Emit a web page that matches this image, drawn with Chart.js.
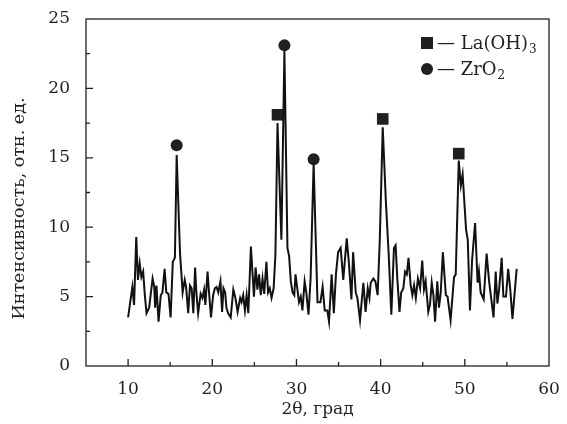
<!DOCTYPE html>
<html>
<head>
<meta charset="utf-8">
<script src="https://cdn.jsdelivr.net/npm/chart.js@4"></script>
<style>
  html, body { margin: 0; padding: 0; background: #fff; }
  #wrap { width: 567px; height: 424px; }
</style>
</head>
<body>
<div id="wrap"><canvas id="grafico" width="567" height="424"></canvas></div>
<script>
// 2θ, град
const twoTheta = [
  10.0, 10.51, 10.71, 10.97, 11.17, 11.38, 11.58, 11.79, 11.99, 12.19, 12.5, 12.91, 13.11, 13.21, 13.37, 13.62,
  13.88, 14.08, 14.34, 14.54, 14.8, 15.05, 15.31, 15.56, 15.77, 16.17, 16.48, 16.73, 16.89, 17.14, 17.35,
  17.55, 17.75, 17.96, 18.11, 18.32, 18.62, 18.83, 19.03, 19.18, 19.44, 19.64, 19.85, 20.1, 20.31, 20.51,
  20.71, 20.97, 21.17, 21.33, 21.53, 21.68, 21.89, 22.19, 22.5, 22.75, 23.01, 23.31, 23.47, 23.67, 23.88,
  24.08, 24.28, 24.59, 24.95, 25.15, 25.36, 25.56, 25.76, 25.97, 26.17, 26.43, 26.63, 26.83, 27.04, 27.29,
  27.5, 27.75, 28.21, 28.57, 28.93, 29.13, 29.33, 29.54, 29.74, 29.89, 30.1, 30.3, 30.51, 30.71, 30.97,
  31.17, 31.43, 31.68, 32.04, 32.5, 32.85, 33.11, 33.36, 33.67, 33.87, 34.18, 34.44, 34.69, 34.95, 35.25,
  35.56, 35.97, 36.22, 36.53, 36.73, 37.04, 37.24, 37.55, 37.95, 38.21, 38.47, 38.67, 38.82, 39.13, 39.38,
  39.64, 39.89, 40.25, 40.61, 40.96, 41.27, 41.58, 41.78, 41.98, 42.24, 42.44, 42.7, 42.9, 43.11, 43.31,
  43.57, 43.77, 43.97, 44.18, 44.43, 44.69, 44.94, 45.15, 45.35, 45.66, 45.86, 46.07, 46.27, 46.47, 46.73,
  46.93, 47.14, 47.39, 47.75, 47.95, 48.31, 48.72, 48.92, 49.28, 49.53, 49.74, 50.15, 50.35, 50.61, 50.86,
  51.22, 51.52, 51.68, 51.88, 52.24, 52.59, 52.9, 53.21, 53.41, 53.67, 53.87, 54.07, 54.38, 54.58, 54.89,
  55.15, 55.4, 55.66, 56.16
];
// Интенсивность, отн. ед.
const intensity = [
  3.5, 5.7, 4.4, 9.3, 6.2, 7.4, 6.4, 6.8, 5.1, 3.8, 4.2, 6.3, 5.7, 4.2, 5.8, 3.2,
  5.1, 5.3, 7.0, 5.3, 5.2, 3.5, 7.5, 7.8, 15.2, 8.1, 5.3, 6.2, 5.7, 3.8, 5.8,
  5.6, 3.8, 7.1, 5.3, 3.8, 5.2, 4.9, 5.5, 4.4, 6.8, 5.1, 3.5, 5.1, 5.6, 5.7,
  5.3, 6.1, 3.9, 5.6, 5.3, 4.2, 3.8, 3.5, 5.5, 4.9, 3.9, 4.9, 4.6, 5.1, 4.0,
  5.1, 3.8, 8.6, 5.0, 7.1, 5.5, 6.6, 5.1, 6.3, 5.2, 7.5, 5.3, 5.6, 4.9, 5.6,
  8.0, 17.5, 9.1, 22.7, 8.5, 7.9, 6.1, 5.3, 5.1, 6.6, 5.6, 4.6, 5.0, 4.0, 6.1,
  5.3, 3.7, 6.3, 14.6, 4.6, 4.6, 5.7, 4.0, 4.0, 3.2, 6.6, 3.8, 6.6, 8.2, 8.5,
  6.2, 9.2, 7.5, 4.8, 8.2, 5.3, 4.9, 3.3, 6.0, 3.9, 5.6, 4.9, 6.0, 6.3, 6.1,
  5.1, 8.9, 17.2, 12.0, 8.0, 3.7, 8.5, 8.7, 6.3, 3.9, 5.3, 5.6, 6.8, 6.6, 7.8,
  5.8, 5.1, 5.8, 4.9, 6.3, 5.6, 7.6, 5.5, 6.1, 3.9, 4.4, 6.0, 5.1, 3.2, 6.1,
  4.2, 5.3, 8.2, 5.1, 5.0, 3.3, 6.4, 6.6, 14.8, 13.0, 13.8, 9.8, 9.1, 4.0, 7.6,
  10.3, 6.0, 6.8, 5.3, 4.8, 8.1, 6.0, 4.5, 3.5, 6.8, 4.5, 5.5, 7.8, 5.0, 5.0,
  7.0, 5.5, 3.4, 7.0
];

// отметки фаз над пиками
const laX = [27.75, 40.25, 49.28];
const laY = [18.1, 17.8, 15.3];
const zrX = [15.77, 28.57, 32.04];
const zrY = [15.9, 23.1, 14.9];

const xTicks = [10, 20, 30, 40, 50, 60];
const yTicks = [0, 5, 10, 15, 20, 25];

const tinta = "#231f20";
const fuente = "'DejaVu Serif', 'Liberation Serif', serif";
const tituloY = "Интенсивность, отн. ед.";

const puntos = (xs, ys) => xs.map((x, i) => ({ x, y: ys[i] }));

// marco, marcas hacia dentro, título del eje Y y leyenda
const marco = {
  id: "marco",
  afterDraw(chart) {
    const { ctx, chartArea: a, scales } = chart;
    ctx.save();
    ctx.strokeStyle = tinta;
    ctx.lineWidth = 1.3;
    ctx.strokeRect(a.left, a.top, a.right - a.left, a.bottom - a.top);
    ctx.beginPath();
    for (let v = 10; v < 60; v += 5) {
      const px = scales.x.getPixelForValue(v);
      const len = v % 10 === 0 ? 7 : 4;
      ctx.moveTo(px, a.bottom);
      ctx.lineTo(px, a.bottom - len);
    }
    for (let v = 2.5; v < 25; v += 2.5) {
      const py = scales.y.getPixelForValue(v);
      const len = v % 5 === 0 ? 7 : 4;
      ctx.moveTo(a.left, py);
      ctx.lineTo(a.left + len, py);
    }
    ctx.stroke();

    ctx.fillStyle = tinta;

    // título Y, algo más abajo que el centro
    ctx.save();
    ctx.translate(19, (a.top + a.bottom) / 2 + 16);
    ctx.rotate(-Math.PI / 2);
    ctx.font = "17.5px " + fuente;
    ctx.textAlign = "center";
    ctx.textBaseline = "middle";
    ctx.fillText(tituloY, 0, 0);
    ctx.restore();

    // leyenda
    const lx = a.right - 122, ly1 = a.top + 24, ly2 = a.top + 50;
    ctx.fillRect(lx - 6, ly1 - 6, 12, 12);
    ctx.beginPath();
    ctx.arc(lx, ly2, 6, 0, Math.PI * 2);
    ctx.fill();
    ctx.textBaseline = "alphabetic";
    ctx.font = "18px " + fuente;
    const t1 = "\u2014 La(OH)", t2 = "\u2014 ZrO";
    ctx.fillText(t1, lx + 10, ly1 + 6);
    ctx.fillText(t2, lx + 10, ly2 + 6);
    const w1 = ctx.measureText(t1).width, w2 = ctx.measureText(t2).width;
    ctx.font = "12px " + fuente;
    ctx.fillText("3", lx + 11 + w1, ly1 + 10);
    ctx.fillText("2", lx + 11 + w2, ly2 + 10);
    ctx.restore();
  }
};

const ctx = document.getElementById("grafico").getContext("2d");
window.miGrafico = new Chart(ctx, {
  type: "line",
  data: {
    datasets: [
      {
        label: "XRD",
        data: puntos(twoTheta, intensity),
        borderColor: "#111",
        borderWidth: 2,
        pointRadius: 0,
        tension: 0,
        fill: false
      },
      {
        type: "scatter",
        label: "La(OH)3",
        data: puntos(laX, laY),
        pointStyle: "rect",
        pointRadius: 8.2,
        backgroundColor: tinta,
        borderWidth: 0
      },
      {
        type: "scatter",
        label: "ZrO2",
        data: puntos(zrX, zrY),
        pointStyle: "circle",
        pointRadius: 6,
        backgroundColor: tinta,
        borderWidth: 0
      }
    ]
  },
  options: {
    responsive: false,
    animation: false,
    devicePixelRatio: 1,
    layout: { padding: { top: 19, right: 18, left: 0, bottom: 0 } },
    plugins: {
      legend: { display: false },
      tooltip: { enabled: false }
    },
    scales: {
      x: {
        type: "linear",
        min: 5,
        max: 60,
        afterBuildTicks: s => { s.ticks = xTicks.map(v => ({ value: v })); },
        afterFit: s => { s.height = 58; },
        grid: { display: false },
        border: { display: false },
        ticks: { color: tinta, font: { family: fuente, size: 17 }, padding: 5, maxRotation: 0 },
        title: { display: true, text: "2\u03b8, град", color: tinta, font: { family: fuente, size: 17 }, padding: { top: 3 } }
      },
      y: {
        type: "linear",
        min: 0,
        max: 25,
        afterBuildTicks: s => { s.ticks = yTicks.map(v => ({ value: v })); },
        afterFit: s => { s.width = 86; },
        grid: { display: false },
        border: { display: false },
        ticks: { color: tinta, font: { family: fuente, size: 17 }, padding: 8 },
        title: { display: false }
      }
    }
  },
  plugins: [marco]
});
</script>
</body>
</html>
